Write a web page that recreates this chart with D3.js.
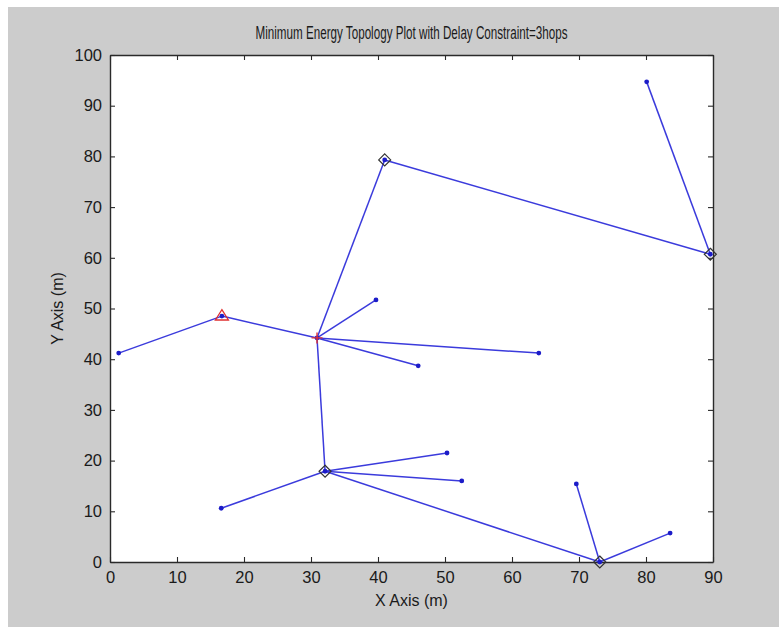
<!DOCTYPE html>
<html>
<head>
<meta charset="utf-8">
<script src="https://cdn.jsdelivr.net/npm/d3@7"></script>
<style>
  html, body { margin: 0; padding: 0; background: #fff; }
  svg { display: block; font-family: "Liberation Sans", Arial, sans-serif; }
</style>
</head>
<body>
<svg id="chart" width="779" height="627"></svg>
<script>
// Node positions (metres)
const nodeIds = ["n1","bs","sink","l1","l2","l3","ch1","ch2","l4","ch3","l5","l6","l7","ch4","l8","l9"];
const nodeX   = [1.3, 16.7, 30.9, 39.7, 46.0, 64.0, 41.0, 89.6, 80.1, 32.1, 16.6, 50.3, 52.5, 73.1, 69.6, 83.6];
const nodeY   = [41.2, 48.5, 44.2, 51.7, 38.7, 41.2, 79.3, 60.7, 94.7, 17.9, 10.6, 21.5, 16.0, 0.0, 15.4, 5.7];

// Links between nodes
const linkFrom = ["n1","bs","sink","sink","sink","sink","ch1","ch2","sink","ch3","ch3","ch3","ch3","ch4","ch4"];
const linkTo   = ["bs","sink","l1","l2","l3","ch1","ch2","l4","ch3","l5","l6","l7","ch4","l8","l9"];

// Cluster heads (diamonds), triangle node, plus node
const clusterHeads = ["ch1","ch2","ch3","ch4"];
const triangleNodes = ["bs"];
const plusNodes = ["sink"];

const xTicks = [0,10,20,30,40,50,60,70,80,90];
const yTicks = [0,10,20,30,40,50,60,70,80,90,100];

const titleText = "Minimum Energy Topology Plot with Delay Constraint=3hops";
const xLabel = "X Axis (m)";
const yLabel = "Y Axis (m)";

const nodes = nodeIds.map((id, i) => ({ id, x: nodeX[i], y: nodeY[i] }));
const byId = new Map(nodes.map(d => [d.id, d]));
const links = linkFrom.map((f, i) => ({ a: byId.get(f), b: byId.get(linkTo[i]) }));

const svg = d3.select("#chart");
const W = 779, H = 627;
const plot = { left: 110, top: 55, right: 713, bottom: 562 };
const fontSize = 16;
const narrow = "'Liberation Sans Narrow', 'Liberation Sans', Arial, sans-serif";

svg.append("rect").attr("x", 8).attr("y", 7).attr("width", W - 8).attr("height", H - 7).attr("fill", "#cccccc");
svg.append("rect").attr("x", plot.left).attr("y", plot.top)
  .attr("width", plot.right - plot.left).attr("height", plot.bottom - plot.top).attr("fill", "#ffffff");

const x = d3.scaleLinear().domain([0, 90]).range([plot.left, plot.right]);
const y = d3.scaleLinear().domain([0, 100]).range([plot.bottom, plot.top]);

const tickLen = 5;
const axisColor = "#2a2a2a";

// Bottom axis (ticks point inward)
const gx = svg.append("g").attr("transform", `translate(0,${plot.bottom})`)
  .call(d3.axisBottom(x).tickValues(xTicks).tickSizeInner(-tickLen).tickSizeOuter(0).tickPadding(9));
// Top axis mirror ticks
const gxt = svg.append("g").attr("transform", `translate(0,${plot.top})`)
  .call(d3.axisTop(x).tickValues(xTicks).tickSizeInner(-tickLen).tickSizeOuter(0).tickFormat(""));
// Left axis
const gy = svg.append("g").attr("transform", `translate(${plot.left},0)`)
  .call(d3.axisLeft(y).tickValues(yTicks).tickSizeInner(-tickLen).tickSizeOuter(0).tickPadding(8));
// Right axis mirror ticks
const gyr = svg.append("g").attr("transform", `translate(${plot.right},0)`)
  .call(d3.axisRight(y).tickValues(yTicks).tickSizeInner(-tickLen).tickSizeOuter(0).tickFormat(""));

[gx, gxt, gy, gyr].forEach(g => {
  g.selectAll(".domain").attr("stroke", axisColor).attr("stroke-width", 1.4);
  g.selectAll(".tick line").attr("stroke", axisColor).attr("stroke-width", 1.1);
  g.selectAll(".tick text").attr("fill", "#1a1a1a").attr("font-size", 16.5)
    .attr("font-family", narrow);
});

// Links
svg.append("g").selectAll("line").data(links).join("line")
  .attr("x1", d => x(d.a.x)).attr("y1", d => y(d.a.y))
  .attr("x2", d => x(d.b.x)).attr("y2", d => y(d.b.y))
  .attr("stroke", "#3b3bdc").attr("stroke-width", 1.5);

// Node dots
svg.append("g").selectAll("circle").data(nodes).join("circle")
  .attr("cx", d => x(d.x)).attr("cy", d => y(d.y)).attr("r", 2.4).attr("fill", "#1c1cc8");

// Cluster head diamonds
svg.append("g").selectAll("path").data(clusterHeads.map(id => byId.get(id))).join("path")
  .attr("d", d => { const cx = x(d.x), cy = y(d.y), r = 6;
    return `M${cx},${cy - r}L${cx + r},${cy}L${cx},${cy + r}L${cx - r},${cy}Z`; })
  .attr("fill", "none").attr("stroke", "#333").attr("stroke-width", 1.2);

// Triangle
svg.append("g").selectAll("path").data(triangleNodes.map(id => byId.get(id))).join("path")
  .attr("d", d => { const cx = x(d.x), cy = y(d.y), r = 6.5;
    return `M${cx},${cy - r}L${cx + r},${cy + r * 0.6}L${cx - r},${cy + r * 0.6}Z`; })
  .attr("fill", "none").attr("stroke", "#e03030").attr("stroke-width", 1.3);

// Plus
svg.append("g").selectAll("path").data(plusNodes.map(id => byId.get(id))).join("path")
  .attr("d", d => { const cx = x(d.x), cy = y(d.y), r = 5.5;
    return `M${cx - r},${cy}L${cx + r},${cy}M${cx},${cy - r}L${cx},${cy + r}`; })
  .attr("fill", "none").attr("stroke", "#e03030").attr("stroke-width", 1.4);

// Title (condensed face) and axis labels
svg.append("text").attr("x", (plot.left + plot.right) / 2).attr("y", 39)
  .attr("text-anchor", "middle").attr("font-size", 17.5)
  .attr("font-family", narrow)
  .attr("textLength", 312).attr("lengthAdjust", "spacingAndGlyphs")
  .attr("fill", "#1a1a1a").text(titleText);
svg.append("text").attr("x", (plot.left + plot.right) / 2).attr("y", 606)
  .attr("text-anchor", "middle").attr("font-size", fontSize).attr("fill", "#1a1a1a").text(xLabel);
svg.append("text").attr("transform", `translate(63,${(plot.top + plot.bottom) / 2}) rotate(-90)`)
  .attr("text-anchor", "middle").attr("font-size", fontSize).attr("fill", "#1a1a1a").text(yLabel);
</script>
</body>
</html>
